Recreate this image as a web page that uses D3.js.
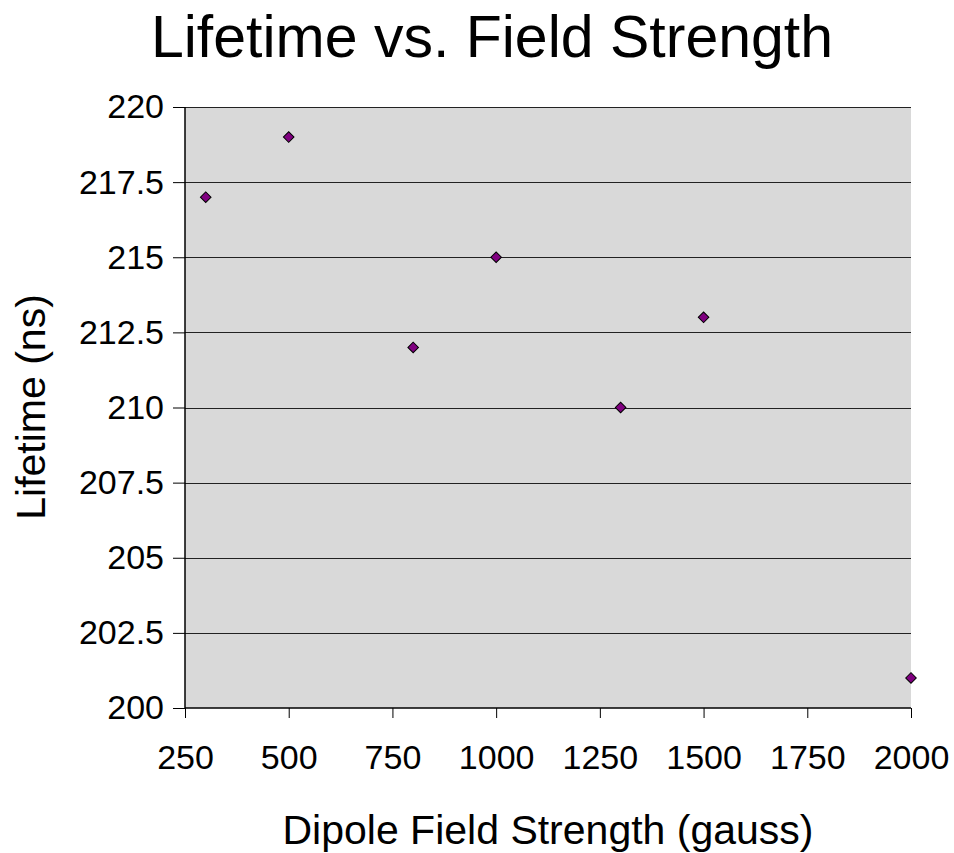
<!DOCTYPE html>
<html lang="en">
<head>
<meta charset="utf-8">
<title>Lifetime vs. Field Strength</title>
<script src="https://cdn.jsdelivr.net/npm/d3@7"></script>
<style>
  body { margin: 0; background: #fff; }
  text { font-family: "Liberation Sans", Arial, sans-serif; fill: #000; }
</style>
</head>
<body>
<script>
// data
var fieldStrength = [300, 500, 800, 1000, 1300, 1500, 2000];
var lifetime = [217, 219, 212, 215, 210, 213, 201];
var xTicks = [250, 500, 750, 1000, 1250, 1500, 1750, 2000];
var yTicks = [200, 202.5, 205, 207.5, 210, 212.5, 215, 217.5, 220];

var w = 954, h = 853;
var pLeft = 185, pRight = 911, pTop = 107, pBottom = 708;

var svg = d3.select("body").append("svg")
  .attr("width", w).attr("height", h);

var x = d3.scaleLinear().domain([250, 2000]).range([pLeft, pRight]);
var y = d3.scaleLinear().domain([200, 220]).range([pBottom, pTop]);

// plot area
svg.append("rect")
  .attr("x", pLeft).attr("y", pTop)
  .attr("width", pRight - pLeft).attr("height", pBottom - pTop)
  .attr("fill", "#d9d9d9");

// gridlines
svg.append("g").selectAll("line")
  .data(yTicks.slice(1))
  .enter().append("line")
  .attr("x1", pLeft).attr("x2", pRight)
  .attr("y1", function(d){ return Math.round(y(d)) + 0.5; })
  .attr("y2", function(d){ return Math.round(y(d)) + 0.5; })
  .attr("stroke", "#222").attr("stroke-width", 1);

// y axis
var yAxis = svg.append("g")
  .attr("transform", "translate(" + pLeft + ",0)")
  .call(d3.axisLeft(y).tickValues(yTicks).tickSize(12).tickPadding(9)
    .tickFormat(function(d){ return d; }));
yAxis.selectAll("text").style("font-size", "34px");

// x axis
var xAxis = svg.append("g")
  .attr("transform", "translate(0," + pBottom + ")")
  .call(d3.axisBottom(x).tickValues(xTicks).tickSize(10).tickPadding(27)
    .tickFormat(function(d){ return d; }));
xAxis.selectAll("text").style("font-size", "34px");

[yAxis, xAxis].forEach(function(a){
  a.select(".domain").attr("stroke", "#000").attr("stroke-width", 1.5);
  a.selectAll(".tick line").attr("stroke", "#000");
});
yAxis.select(".domain").attr("d", "M0," + pTop + "V" + pBottom);
xAxis.select(".domain").attr("d", "M" + pLeft + ",0H" + pRight);

// markers
svg.append("g").selectAll("path")
  .data(fieldStrength)
  .enter().append("path")
  .attr("d", d3.symbol().type(d3.symbolSquare).size(56))
  .attr("transform", function(d, i){
    return "translate(" + x(d) + "," + y(lifetime[i]) + ") rotate(45)";
  })
  .attr("fill", "#800080").attr("stroke", "#000").attr("stroke-width", 1);

// titles
svg.append("text")
  .attr("x", 492).attr("y", 57)
  .attr("text-anchor", "middle")
  .style("font-size", "59px")
  .text("Lifetime vs. Field Strength");

svg.append("text")
  .attr("x", 548).attr("y", 844)
  .attr("text-anchor", "middle")
  .style("font-size", "41px")
  .text("Dipole Field Strength (gauss)");

svg.append("text")
  .attr("transform", "translate(45,407) rotate(-90)")
  .attr("text-anchor", "middle")
  .style("font-size", "41px")
  .text("Lifetime (ns)");
</script>
</body>
</html>
